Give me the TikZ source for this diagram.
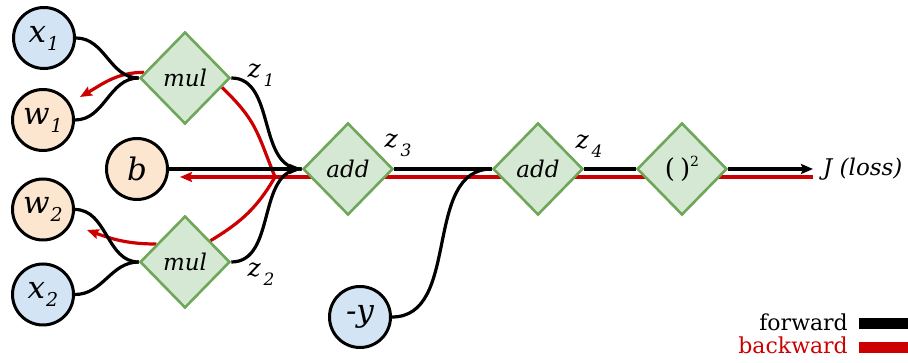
\documentclass[tikz,border=0pt]{standalone}
\usepackage{fontspec}
\setmainfont{DejaVu Serif}
\newfontfamily\legendfont{DejaVu Serif}
\usetikzlibrary{shapes.geometric,arrows.meta,calc}
\pgfdeclarelayer{bg}
\pgfsetlayers{bg,main}
\definecolor{blueF}{HTML}{D3E4F5}
\definecolor{orgF}{HTML}{FCE6CF}
\definecolor{opF}{HTML}{D5E8D4}
\definecolor{opG}{HTML}{6FA75A}
\definecolor{bwred}{HTML}{CC0000}
\newcommand{\circsub}[2]{#1\kern1pt\raisebox{-8pt}{\fontsize{19}{19}\selectfont #2}}
\newcommand{\zsub}[2]{#1\kern3pt\raisebox{-9pt}{\fontsize{17}{17}\selectfont #2}}
\begin{document}
\begin{tikzpicture}[x=1pt,y=1pt,
  circ/.style={circle,draw=black,line width=3pt,minimum size=61pt,inner sep=0pt,font=\fontsize{31}{36}\selectfont\itshape},
  op/.style={diamond,draw=opG,fill=opF,line width=2.6pt,aspect=1,minimum width=90pt,minimum height=92pt,inner sep=0pt,font=\fontsize{23}{28}\selectfont\itshape},
  fw/.style={line width=3.2pt,black},
  bw/.style={line width=3.2pt,bwred},
  tip/.style={-{Stealth[length=12pt,width=10pt,inset=2pt]}},
  zl/.style={font=\fontsize{25}{28}\selectfont\itshape,inner sep=0pt},
  leg/.style={font=\legendfont\fontsize{22}{24}\selectfont,inner sep=0pt,anchor=base east},
  bar/.style={minimum width=49pt,minimum height=11pt,inner sep=0pt,anchor=west}]
\useasboundingbox (0,0) rectangle (908,363);
% nodes
\node[circ,fill=blueF] (x1) at (44,325) {\circsub{x}{1}};
\node[circ,fill=orgF] (w1) at (43,243) {\circsub{w}{1}};
\node[circ,fill=orgF] (b) at (137,194) {b};
\node[circ,fill=orgF] (w2) at (43,153.5) {\circsub{w}{2}};
\node[circ,fill=blueF] (x2) at (43,68.5) {\circsub{x}{2}};
\node[circ,fill=blueF] (y) at (360,46) {-y};
\node[op] (m1) at (185,285) {mul};
\node[op] (m2) at (185,101) {mul};
\node[op] (a1) at (348,194) {add};
\node[op] (a2) at (538,194) {add};
\node[op,font=\fontsize{26}{30}\selectfont] (sq) at (682,194) {(\kern5pt)\raisebox{11pt}{\fontsize{14}{14}\selectfont 2}};
\node[anchor=west,font=\fontsize{23}{28}\selectfont\itshape,inner sep=0pt] (J) at (823,194) {J (loss)};
\coordinate (jend) at (813,194);
\coordinate (rstart) at (813,186);
\coordinate (rend) at (180,186);
\coordinate (merge) at (275,186);
\coordinate (w1in) at (80,266);
\coordinate (w2in) at (87,133);
\node[zl] (z1) at (261,288) {\zsub{z}{1}};
\node[zl] (z2) at (261,89) {\zsub{z}{2}};
\node[zl] (z3) at (398,218) {\zsub{z}{3}};
\node[zl] (z4) at (589,217) {\zsub{z}{4}};
% legend
\node[leg] (fwd) at (848,32) {forward};
\node[leg,text=bwred] (bwd) at (848,9) {backward};
\node[bar,fill=black] (fbar) at (859,39.5) {};
\node[bar,fill=bwred] (bbar) at (859,15.5) {};
\begin{pgfonlayer}{bg}
% backward
\draw[bw,tip] (rstart) -- (rend);
\draw[bw] (merge) to[out=112,in=-44,looseness=1.2] ($(m1.east)!0.2!(m1.south)$);
\draw[bw,tip] ($(m1.west)!0.12!(m1.north)$) to[out=180,in=30] (w1in);
\draw[bw] (merge) to[out=-120,in=31] ($(m2.east)!0.45!(m2.north)$);
\draw[bw,tip] ($(m2.west)!0.38!(m2.north)$) to[out=180,in=-20] (w2in);
% forward
\draw[fw] (x1.east) to[out=0,in=180] (m1.west);
\draw[fw] (w1.east) to[out=0,in=180] (m1.west);
\draw[fw] (x2.east) to[out=0,in=180] (m2.west);
\draw[fw] (w2.east) to[out=0,in=180] (m2.west);
\draw[fw] (m1.east) to[out=0,in=180] (a1.west);
\draw[fw] (m2.east) to[out=0,in=180] (a1.west);
\draw[fw,tip] (b.east) -- (a1.west);
\draw[fw] (a1.east) -- (a2.west);
\draw[fw] (y.east) to[out=0,in=180] (a2.west);
\draw[fw] (a2.east) -- (sq.west);
\draw[fw,tip] (sq.east) -- (jend);
\end{pgfonlayer}
\end{tikzpicture}
\end{document}
